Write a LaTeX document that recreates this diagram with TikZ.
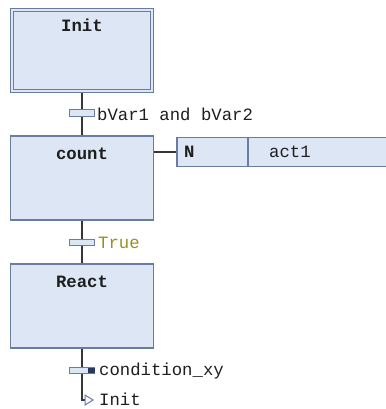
\documentclass[tikz,border=0pt]{standalone}
\usepackage{fontspec}
\setmonofont{Liberation Mono}
\definecolor{stepfill}{RGB}{221,230,245}
\definecolor{stepborder}{RGB}{105,125,160}
\definecolor{wire}{RGB}{55,55,55}
\definecolor{trueclr}{RGB}{150,145,30}
\definecolor{txt}{RGB}{30,30,30}
\definecolor{navy}{RGB}{40,55,95}
\begin{document}
\begin{tikzpicture}[x=1pt,y=-1pt,
  stepbox/.style={draw=stepborder, fill=stepfill, line width=1.2pt, minimum width=143pt, minimum height=84pt, inner sep=0pt},
  innerbox/.style={draw=stepborder, line width=1.2pt, minimum width=137pt, minimum height=78pt, inner sep=0pt},
  steplabel/.style={font=\ttfamily\bfseries\fontsize{17.3}{20}\selectfont, text=txt, inner sep=0pt},
  tbar/.style={draw=stepborder, fill=stepfill, line width=1pt, minimum width=25pt, minimum height=6pt, inner sep=0pt},
  cond/.style={font=\ttfamily\fontsize{17.3}{20}\selectfont, text=txt, anchor=west, inner sep=0pt},
  actcell/.style={draw=stepborder, fill=stepfill, line width=1.2pt, minimum height=29pt, inner sep=0pt},
  wireline/.style={draw=wire, line width=1.6pt}]
\useasboundingbox (0,0) rectangle (385,409);
% steps
\node[stepbox] (init) at (82,50.5) {};
\node[innerbox] (initin) at (82,50.5) {};
\node[stepbox] (count) at (82,178) {};
\node[stepbox] (react) at (82,306) {};
\node[steplabel] (initlbl) at (82,25) {Init};
\node[steplabel] (countlbl) at (82,154) {count};
\node[steplabel] (reactlbl) at (82,282) {React};
% wires
\coordinate (jump) at (82,400);
\draw[wireline] (init.south) -- (count.north);
\draw[wireline] (count.south) -- (react.north);
\draw[wireline] (react.south) -- (jump) -- ++(3,0);
% transitions
\node[tbar] (t1) at (82,113) {};
\node[tbar] (t2) at (82,242) {};
\node[tbar] (t3) at (82,370) {};
\fill[navy] (88,367.5) rectangle (94.5,372.5);
\node[cond] (c1) at (97,114) {bVar1 and bVar2};
\node[cond, text=trueclr] (c2) at (98,243) {True};
\node[cond] (c3) at (99,371) {condition\_xy};
% jump
\draw[stepborder, line width=1pt, fill=white] (85,395) -- (93,400) -- (85,405) -- cycle;
\node[cond] (jlbl) at (99,399.5) {Init};
% action
\node[actcell, minimum width=71pt] (actN) at (212.5,152) {};
\node[actcell, minimum width=140pt] (actname) at (318,152) {};
\node[cond] (nlbl) at (184,152) {\bfseries N};
\node[cond] (albl) at (269,152) {act1};
\draw[wireline] (count.east |- actN.west) -- (actN.west);
\end{tikzpicture}
\end{document}
